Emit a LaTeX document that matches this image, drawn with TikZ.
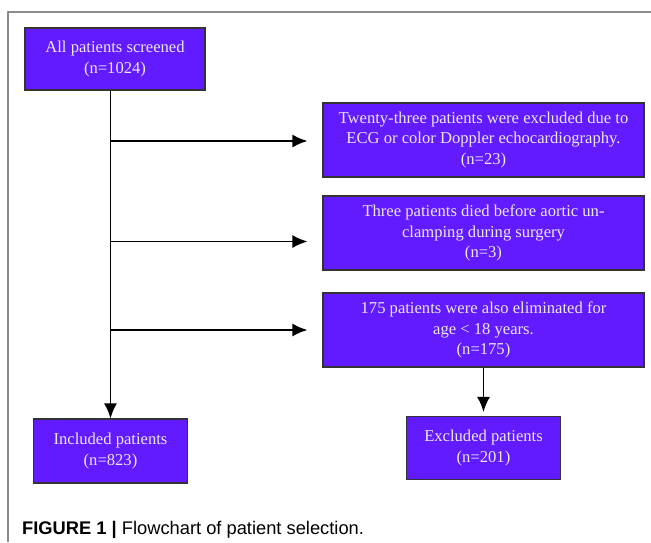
\documentclass[tikz,border=0pt]{standalone}
\usepackage{fontspec}
\setmainfont{Liberation Serif}
\newfontfamily\capfont{Liberation Sans}
\usetikzlibrary{arrows.meta,calc}
\definecolor{boxfill}{RGB}{98,26,255}
\definecolor{boxtext}{RGB}{236,230,255}
\definecolor{framegray}{RGB}{140,140,140}
\tikzset{
  pbox/.style={draw=black!80, line width=1.1pt, fill=boxfill, rectangle, inner sep=0pt,
    text=boxtext, align=center, font=\fontsize{16.6}{20.5}\selectfont},
  conn/.style={line width=1.9pt, black},
  arr/.style={conn, -{Latex[length=15pt,width=13pt]}}
}
\begin{document}
\begin{tikzpicture}[x=1pt,y=-1pt]
\useasboundingbox (0,0) rectangle (651,542);
% frame
\draw[framegray, line width=1.4pt] (8,542) -- (8,12) -- (651,12);
% boxes
\node[pbox, minimum width=180pt, minimum height=62pt] (b1) at (115,59) {All patients screened\\(n=1024)};
\node[pbox, minimum width=321pt, minimum height=74pt] (b2) at (483.5,140) {Twenty-three patients were excluded due to\\ECG or color Doppler echocardiography.\\(n=23)};
\node[pbox, minimum width=321pt, minimum height=74pt] (b3) at (483.5,233) {Three patients died before aortic un-\\clamping during surgery\\(n=3)};
\node[pbox, minimum width=321pt, minimum height=74pt] (b4) at (483.5,330) {175 patients were also eliminated for\\age {<} 18 years.\\(n=175)};
\node[pbox, minimum width=154pt, minimum height=64pt] (inc) at (110.5,451) {Included patients\\(n=823)};
\node[pbox, minimum width=154pt, minimum height=63pt] (exc) at (483.5,448) {Excluded patients\\(n=201)};
% junctions on main line
\coordinate (j1) at (110,141);
\coordinate (j2) at (110,241.5);
\coordinate (j3) at (110,330);
% connectors
\draw[arr] (b1.south -| inc.north) -- (inc.north);
\draw[arr, shorten >=15pt] (j1) -- (j1 -| b2.west);
\draw[arr, shorten >=15pt] (j2) -- (j2 -| b3.west);
\draw[arr, shorten >=15pt] (j3) -- (j3 -| b4.west);
\draw[arr, shorten >=4pt] (b4.south -| exc.north) -- (exc.north);
% caption
\node[anchor=base west, inner sep=0pt, font=\capfont\fontsize{18.3}{20}\selectfont] (cap) at (22,534.5) {\textbf{FIGURE 1 |} Flowchart of patient selection.};
\end{tikzpicture}
\end{document}
